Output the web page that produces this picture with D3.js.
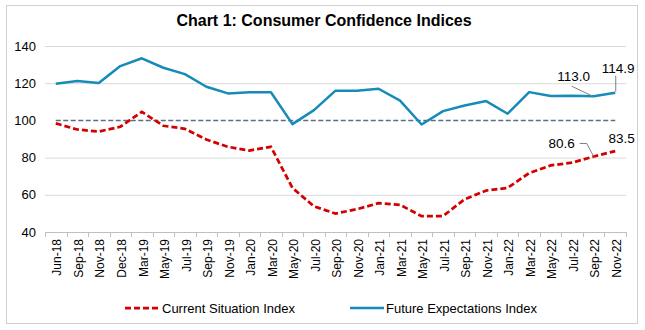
<!DOCTYPE html>
<html>
<head>
<meta charset="utf-8">
<script src="https://cdn.jsdelivr.net/npm/d3@7/dist/d3.min.js"></script>
<style>
  html, body { margin: 0; padding: 0; background: #fff; }
  svg { display: block; font-family: "Liberation Sans", Arial, sans-serif; }
</style>
</head>
<body>
<svg id="chart" width="645" height="330"></svg>
<script>
// Survey rounds
var months = [
  'Jun-18', 'Sep-18', 'Nov-18', 'Dec-18', 'Mar-19', 'May-19', 'Jul-19',
  'Sep-19', 'Nov-19', 'Jan-20', 'Mar-20', 'May-20', 'Jul-20', 'Sep-20',
  'Nov-20', 'Jan-21', 'Mar-21', 'May-21', 'Jul-21', 'Sep-21', 'Nov-21',
  'Jan-22', 'Mar-22', 'May-22', 'Jul-22', 'Sep-22', 'Nov-22'
];

var currentSituation = [
  98.4, 95.1, 94.0, 96.6, 104.6, 97.1, 95.5, 89.7, 85.8, 83.8, 85.8,
  63.7, 53.8, 49.9, 52.3, 55.5, 54.6, 48.5, 48.6, 57.6, 62.3, 63.7,
  71.7, 75.8, 77.3, 80.6, 83.5
];

var futureExpectations = [
  119.7, 121.2, 120.1, 129.2, 133.4, 128.3, 124.9, 118.1, 114.5, 115.1,
  115.1, 98.0, 105.5, 116.0, 116.0, 117.0, 110.6, 97.8, 105.0, 108.0,
  110.4, 103.6, 115.2, 113.1, 113.2, 113.0, 114.9
];

// neutral level separating optimism from pessimism
var neutral = months.map(function () { return 100; });

var yTicks = [40, 60, 80, 100, 120, 140];

var svg = d3.select('#chart');

// outer frame
svg.append('rect')
  .attr('x', 6.5).attr('y', 5.5)
  .attr('width', 631).attr('height', 318)
  .attr('fill', 'none')
  .attr('stroke', '#D0D0D0');

svg.append('text')
  .attr('x', 324).attr('y', 26)
  .attr('text-anchor', 'middle')
  .attr('font-size', 16).attr('font-weight', 'bold')
  .text('Chart 1: Consumer Confidence Indices');

var x = d3.scaleBand().domain(months).range([45, 626]).padding(0);
var y = d3.scaleLinear().domain([40, 140]).range([232, 46]);

function cx(m) { return x(m) + x.bandwidth() / 2; }

// horizontal gridlines
svg.append('g')
  .selectAll('line')
  .data(yTicks.filter(function (t) { return t !== 40 && t !== 100; }))
  .enter().append('line')
  .attr('x1', 45).attr('x2', 626)
  .attr('y1', function (d) { return y(d) + 0.5; })
  .attr('y2', function (d) { return y(d) + 0.5; })
  .attr('stroke', '#D9D9D9');

// y labels
svg.append('g')
  .selectAll('text')
  .data(yTicks)
  .enter().append('text')
  .attr('x', 36)
  .attr('y', function (d) { return y(d); })
  .attr('dy', '0.35em')
  .attr('text-anchor', 'end')
  .attr('font-size', 13)
  .text(function (d) { return d; });

// x axis with ticks on the band edges
var xAxis = svg.append('g');
xAxis.append('line')
  .attr('x1', 45).attr('x2', 626)
  .attr('y1', y(40) + 0.5).attr('y2', y(40) + 0.5)
  .attr('stroke', '#BFBFBF');
xAxis.selectAll('.tick')
  .data(months.map(function (m) { return x(m); }).concat([626]))
  .enter().append('line')
  .attr('class', 'tick')
  .attr('x1', function (d) { return Math.round(d) + 0.5; })
  .attr('x2', function (d) { return Math.round(d) + 0.5; })
  .attr('y1', y(40)).attr('y2', y(40) + 5)
  .attr('stroke', '#BFBFBF');
xAxis.selectAll('.month')
  .data(months)
  .enter().append('text')
  .attr('class', 'month')
  .attr('transform', function (d) {
    return 'translate(' + (cx(d) + 1.5) + ',' + (y(40) + 7) + ') rotate(-90)';
  })
  .attr('dy', '0.35em')
  .attr('text-anchor', 'end')
  .attr('font-size', 12)
  .text(function (d) { return d; });

var line = d3.line()
  .x(function (d, i) { return cx(months[i]); })
  .y(function (d) { return y(d); });

svg.append('path')
  .datum(neutral)
  .attr('d', line)
  .attr('fill', 'none')
  .attr('stroke', '#5A6F82')
  .attr('stroke-width', 1.5)
  .attr('stroke-dasharray', '5,2.5');

svg.append('path')
  .datum(futureExpectations)
  .attr('d', line)
  .attr('fill', 'none')
  .attr('stroke', '#168BB9')
  .attr('stroke-width', 2.5)
  .attr('stroke-linejoin', 'round');

svg.append('path')
  .datum(currentSituation)
  .attr('d', line)
  .attr('fill', 'none')
  .attr('stroke', '#D40000')
  .attr('stroke-width', 2.75)
  .attr('stroke-dasharray', '6,3');

// value labels for the last two rounds, with leader lines
var n = months.length;
var labels = [
  { i: n - 2, v: futureExpectations[n - 2], dx: -20, dy: -15,
    leader: [[-22, -10], [-1, 0]] },
  { i: n - 1, v: futureExpectations[n - 1], dx: 3, dy: -19.5,
    leader: [[0.5, -17], [0.5, -1]] },
  { i: n - 2, v: currentSituation[n - 2], dx: -32, dy: -8,
    leader: [[-14, -13], [-7, -13], [0, 0]] },
  { i: n - 1, v: currentSituation[n - 1], dx: 6.5, dy: -8, leader: null }
];

var lab = svg.append('g');
labels.forEach(function (l) {
  var px = cx(months[l.i]);
  var py = y(l.v);
  if (l.leader) {
    lab.append('path')
      .attr('d', d3.line()(l.leader.map(function (p) { return [px + p[0], py + p[1]]; })))
      .attr('fill', 'none')
      .attr('stroke', '#7F7F7F')
      .attr('stroke-width', 1);
  }
  lab.append('text')
    .attr('x', px + l.dx)
    .attr('y', py + l.dy)
    .attr('text-anchor', 'middle')
    .attr('font-size', 13.5)
    .text(l.v.toFixed(1));
});

// legend
var legend = svg.append('g');
legend.append('line')
  .attr('x1', 125).attr('x2', 159)
  .attr('y1', 308).attr('y2', 308)
  .attr('stroke', '#D40000').attr('stroke-width', 2.75)
  .attr('stroke-dasharray', '6,3');
legend.append('text')
  .attr('x', 162).attr('y', 308).attr('dy', '0.35em')
  .attr('font-size', 13)
  .text('Current Situation Index');
legend.append('line')
  .attr('x1', 350).attr('x2', 384)
  .attr('y1', 308).attr('y2', 308)
  .attr('stroke', '#168BB9').attr('stroke-width', 2.5);
legend.append('text')
  .attr('x', 386).attr('y', 308).attr('dy', '0.35em')
  .attr('font-size', 13)
  .text('Future Expectations Index');
</script>
</body>
</html>
